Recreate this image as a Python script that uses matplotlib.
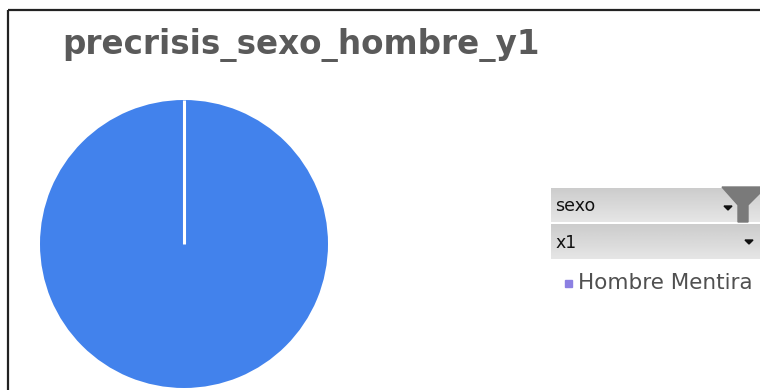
import numpy as np
import matplotlib
matplotlib.use("Agg")
import matplotlib.pyplot as plt
from matplotlib.patches import Rectangle, Polygon

# datos de la tabla dinamica
title = "precrisis_sexo_hombre_y1"
categories = ["Hombre Mentira"]
values = [1]
field_buttons = ["sexo", "x1"]

pie_color = "#4282EC"
legend_color = "#8C80E2"
W, H = 760, 390

fig = plt.figure(figsize=(W / 100, H / 100), dpi=100)
fig.patch.set_facecolor("white")

# capa de fondo en pixeles para marco, titulo y botones
bg = fig.add_axes([0, 0, 1, 1])
bg.set_xlim(0, W)
bg.set_ylim(H, 0)
bg.axis("off")

# marco del grafico (solo lados superior e izquierdo visibles)
bg.plot([8, 8], [H, 10], color="#222222", lw=1.6, solid_capstyle="butt")
bg.plot([8, W], [10, 10], color="#222222", lw=1.6, solid_capstyle="butt")

bg.text(62, 45, title, fontsize=23.5, fontweight="bold", color="#5A5A5A",
        family="DejaVu Sans", va="center", ha="left")

# botones de campo
btn_y = [(188, 222), (224, 259)]
for name, (y0, y1) in zip(field_buttons, btn_y):
    grad = np.linspace(0.80, 0.90, 50).reshape(-1, 1)
    bg.imshow(np.repeat(grad, 2, axis=1), cmap="gray", vmin=0, vmax=1,
              extent=[551, W, y1, y0], aspect="auto", zorder=2)
    bg.text(555, (y0 + y1) / 2 + 1, name, fontsize=12.5, color="#111111",
            family="DejaVu Sans", va="center", ha="left", zorder=3)

# flechas desplegables
for cx, cy in [(728, 208), (749, 242)]:
    bg.add_patch(Polygon([[cx - 4, cy - 2], [cx + 4, cy - 2], [cx, cy + 2]],
                         closed=True, color="#111111", zorder=4))

# icono de filtro
bg.add_patch(Polygon([[722, 187], [W, 187], [W, 193], [748, 205], [748, 222],
                      [738, 222], [738, 205]],
                     closed=True, color="#7A7A7A", zorder=4))

# leyenda
for i, (cat, col) in enumerate(zip(categories, [legend_color])):
    ly = 283 + i * 20
    bg.add_patch(Rectangle((565, ly - 3.5), 7, 7, color=col, zorder=3))
    bg.text(578, ly, cat, fontsize=15.5, color="#505050",
            family="DejaVu Sans", va="center", ha="left")

# grafico circular
cx, cy, r = 184, 244, 144
ax = fig.add_axes([(cx - r) / W, (H - cy - r) / H, 2 * r / W, 2 * r / H])
start = 90
ax.pie(values, colors=[pie_color], startangle=start, counterclock=False,
       wedgeprops=dict(linewidth=0))
ang = np.deg2rad(start)
ax.plot([0, np.cos(ang)], [0, np.sin(ang)], color="white", lw=2.2,
        solid_capstyle="butt")
ax.set_xlim(-1, 1)
ax.set_ylim(-1, 1)
ax.axis("off")

fig.savefig("out.png", dpi=100)
